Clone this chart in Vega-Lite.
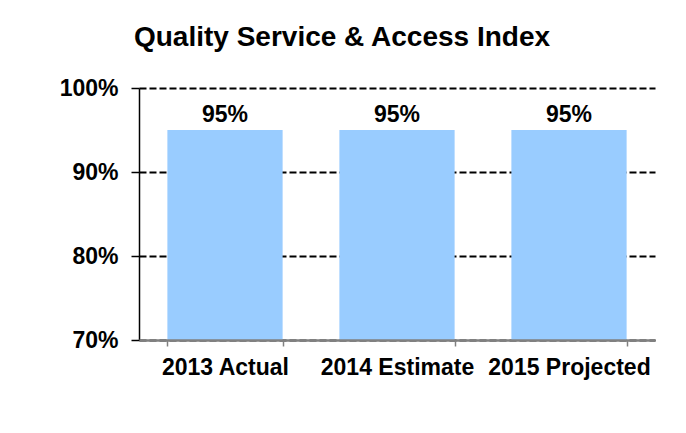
{
  "$schema": "https://vega.github.io/schema/vega-lite/v6.json",
  "width": 516,
  "height": 252,
  "autosize": "none",
  "padding": {"left": 139, "top": 88, "right": 31, "bottom": 93},
  "background": "white",
  "config": {"view": {"stroke": null}, "font": "Liberation Sans"},
  "title": {
    "text": "Quality Service & Access Index",
    "font": "Liberation Sans",
    "fontSize": 28,
    "fontWeight": "bold",
    "color": "black",
    "anchor": "middle",
    "dx": -55,
    "offset": 3,
    "baseline": "alphabetic"
  },
  "data": {
    "values": [
      {"year": "2013 Actual", "value": 0.95, "label": "95%"},
      {"year": "2014 Estimate", "value": 0.95, "label": "95%"},
      {"year": "2015 Projected", "value": 0.95, "label": "95%"}
    ]
  },
  "encoding": {
    "x": {
      "field": "year",
      "type": "nominal",
      "sort": null,
      "scale": {"paddingInner": 0.33, "paddingOuter": 0.165},
      "axis": {
        "title": null,
        "labelAngle": 0,
        "labelFont": "Liberation Sans",
        "labelFontSize": 23,
        "labelFontWeight": "bold",
        "labelColor": "black",
        "ticks": true,
        "tickBand": "extent",
        "tickSize": 6,
        "tickColor": "#808080",
        "tickWidth": 1.5,
        "domainColor": "#808080",
        "domainWidth": 2.5,
        "labelPadding": 10,
        "labelBaseline": "top",
        "zindex": 2
      }
    },
    "y": {
      "field": "value",
      "type": "quantitative",
      "scale": {"domain": [0.7, 1.0], "nice": false, "zero": false},
      "axis": {
        "title": null,
        "values": [0.7, 0.8, 0.9, 1.0],
        "format": ".0%",
        "labelFont": "Liberation Sans",
        "labelFontSize": 23,
        "labelFontWeight": "bold",
        "labelColor": "black",
        "labelPadding": 13,
        "tickSize": 8,
        "tickColor": "black",
        "tickWidth": 1.5,
        "domainColor": "black",
        "domainWidth": 1.5,
        "grid": true,
        "gridColor": "black",
        "gridWidth": 2,
        "gridDash": [7, 3]
      }
    }
  },
  "layer": [
    {
      "mark": {"type": "bar", "color": "#99CCFF"},
      "encoding": {"y2": {"datum": 0.7}}
    },
    {
      "mark": {"type": "text", "dy": -15, "font": "Liberation Sans", "fontSize": 23, "fontWeight": "bold", "color": "black"},
      "encoding": {"text": {"field": "label"}}
    }
  ]
}
